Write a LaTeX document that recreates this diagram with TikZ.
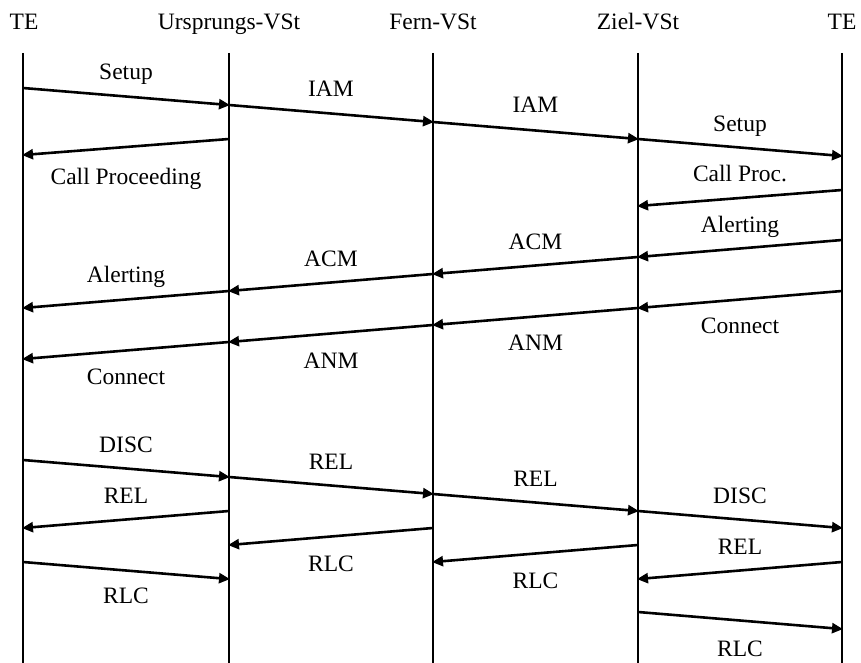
\documentclass[tikz,border=0pt]{standalone}
\usepackage{fontspec}
\setmainfont{Liberation Serif}
\usetikzlibrary{arrows.meta,calc}
\tikzset{
  lifeline/.style={line width=2pt},
  msgarrow/.style={line width=2.6pt,-{Triangle[length=11pt,width=10pt]}, shorten >=-1pt},
  lbl/.style={anchor=base,inner sep=0pt,font=\fontsize{23.5}{28}\selectfont},
  head/.style={anchor=base,inner sep=0pt,font=\fontsize{23.5}{28}\selectfont}
}
% #1 name, #2 source lifeline, #3 source y, #4 target lifeline, #5 target y, #6 label, #7 label baseline
\newcommand\msgline[7]{%
  \coordinate (#1s) at ($(#2)+(0,#3)$);
  \coordinate (#1t) at ($(#4)+(0,#5)$);
  \draw[msgarrow] (#1s) -- (#1t);
  \node[lbl] (#1l) at ($(#2)!0.5!(#4)+(0,#7)$) {#6};
}
\begin{document}
\begin{tikzpicture}[x=1pt,y=-1pt]
\useasboundingbox (0,0) rectangle (861,663);
% lifeline anchors
\coordinate (L1) at (23,0);
\coordinate (L2) at (229,0);
\coordinate (L3) at (433,0);
\coordinate (L4) at (638,0);
\coordinate (L5) at (842,0);
% headers
\node[head] (h1) at (24,30) {TE};
\node[head] (h2) at (229,30) {Ursprungs-VSt};
\node[head] (h3) at (433,30) {Fern-VSt};
\node[head] (h4) at (638,30) {Ziel-VSt};
\node[head] (h5) at (842,30) {TE};
% lifelines
\foreach \i in {1,...,5}{
  \coordinate (T\i) at ($(L\i)+(0,53)$);
  \coordinate (B\i) at ($(L\i)+(0,663)$);
  \draw[lifeline] (T\i) -- (B\i);
}
% messages
\msgline{m1}{L1}{88}{L2}{105}{Setup}{80}
\msgline{m2}{L2}{105}{L3}{122}{IAM}{97}
\msgline{m3}{L3}{122}{L4}{139}{IAM}{113}
\msgline{m4}{L4}{139}{L5}{156}{Setup}{132}
\msgline{m5}{L2}{139}{L1}{155}{Call Proceeding}{185}
\msgline{m6}{L5}{190}{L4}{206}{Call Proc.}{182}
\msgline{m7}{L5}{240}{L4}{257}{Alerting}{232}
\msgline{m8}{L4}{257}{L3}{274}{ACM}{249}
\msgline{m9}{L3}{274}{L2}{291}{ACM}{266}
\msgline{m10}{L2}{291}{L1}{308}{Alerting}{282}
\msgline{m11}{L5}{291}{L4}{308}{Connect}{333}
\msgline{m12}{L4}{308}{L3}{325}{ANM}{350}
\msgline{m13}{L3}{325}{L2}{342}{ANM}{368}
\msgline{m14}{L2}{342}{L1}{359}{Connect}{384}
\msgline{m15}{L1}{460}{L2}{477}{DISC}{452}
\msgline{m16}{L2}{477}{L3}{494}{REL}{469}
\msgline{m17}{L3}{494}{L4}{511}{REL}{486}
\msgline{m18}{L4}{511}{L5}{528}{DISC}{503}
\msgline{m19}{L2}{511}{L1}{528}{REL}{503}
\msgline{m20}{L3}{528}{L2}{545}{RLC}{571}
\msgline{m21}{L5}{562}{L4}{579}{REL}{554}
\msgline{m22}{L4}{545}{L3}{562}{RLC}{588}
\msgline{m23}{L1}{562}{L2}{579}{RLC}{603}
\msgline{m24}{L4}{612}{L5}{629}{RLC}{656}
\end{tikzpicture}
\end{document}
